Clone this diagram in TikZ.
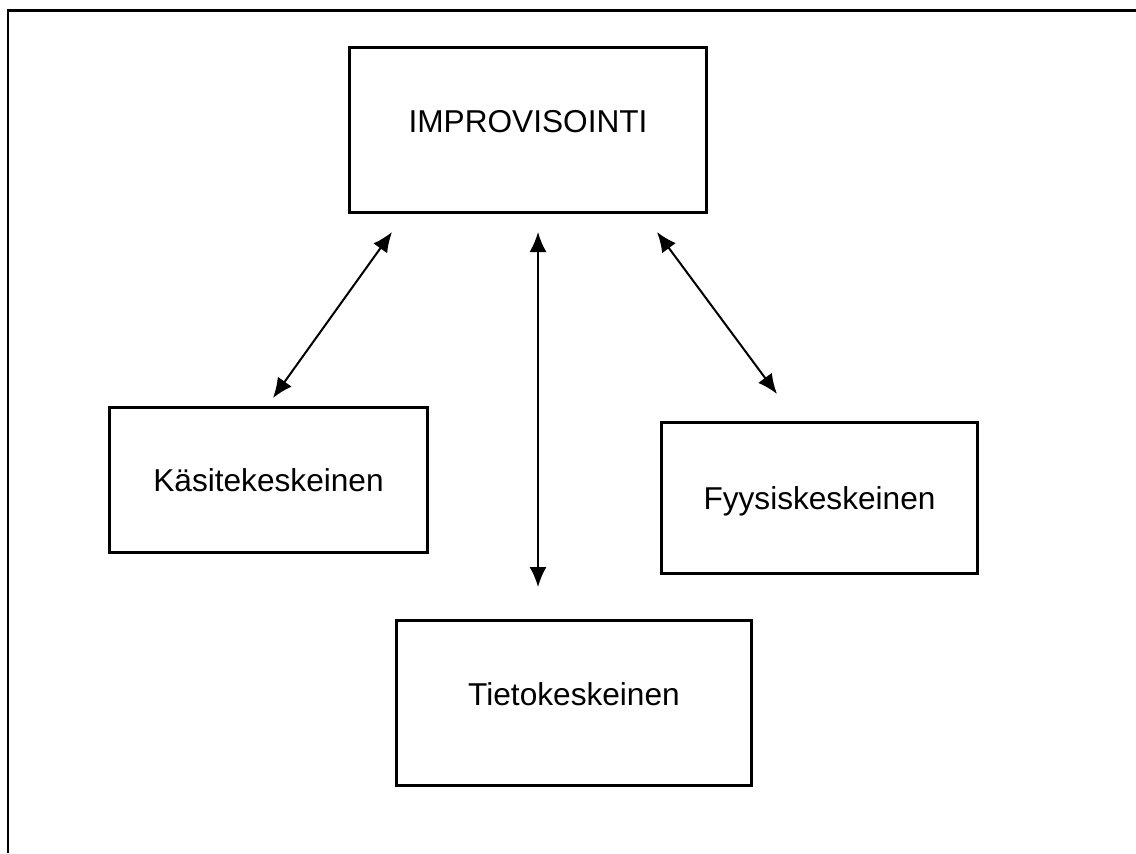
\documentclass[tikz,border=0pt]{standalone}
\usepackage{fontspec}
\setmainfont{Liberation Sans}
\usetikzlibrary{arrows.meta}

\tikzset{
  box/.style={draw=black, line width=0.06cm, rectangle, inner sep=0pt,
    text height=13pt, text depth=0pt, font=\fontsize{18}{22}\selectfont},
  lowbox/.style={box, text depth=10pt},
  link/.style={<->, line width=0.04cm},
  >={Latex[length=0.4cm,width=0.34cm]}
}

\begin{document}
\begin{tikzpicture}[x=0.02cm, y=-0.02cm]

\useasboundingbox (0,0) rectangle (1136,853);

% cell border (top and left only)
\draw [black, line width=0.06cm] (8,853) -- (8,10) -- (1136,10);

\node [lowbox, minimum width=7.16cm, minimum height=3.32cm] (imp) at (528,130) {IMPROVISOINTI};
\node [box, minimum width=6.38cm, minimum height=2.92cm] (kas) at (268.5,480) {Käsitekeskeinen};
\node [box, minimum width=6.34cm, minimum height=3.04cm] (fyy) at (819.5,498) {Fyysiskeskeinen};
\node [lowbox, minimum width=7.12cm, minimum height=3.32cm] (tie) at (574,703) {Tietokeskeinen};

% arrow ends
\coordinate (kasA) at (392,232);
\coordinate (kasB) at (273,398);
\coordinate (tieA) at (538,232);
\coordinate (tieB) at (538,587);
\coordinate (fyyA) at (657,232);
\coordinate (fyyB) at (777,394);

\draw [link] (kasA) -- (kasB);
\draw [link] (tieA) -- (tieB);
\draw [link] (fyyA) -- (fyyB);

\end{tikzpicture}
\end{document}
